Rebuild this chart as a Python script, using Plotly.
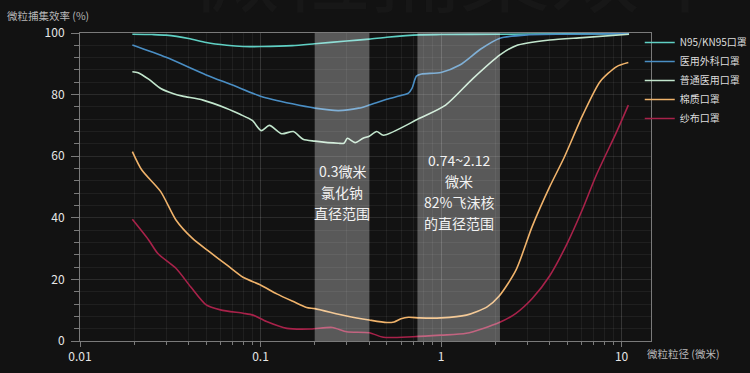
import math
import plotly.graph_objects as go

FONT = "Noto Sans CJK SC"

# ---- data ----
names = ["N95/KN95口罩", "医用外科口罩", "普通医用口罩", "棉质口罩", "纱布口罩"]
colors = ["#5fd0c4", "#4a8ec4", "#c2e6cd", "#f0b36b", "#a8224a"]

n95_x = [0.0195, 0.025, 0.03, 0.04, 0.05, 0.065, 0.08, 0.1, 0.15, 0.2, 0.3, 0.4, 0.5, 0.76, 1.0, 2.1, 5, 11]
n95_y = [99.6, 99.5, 99.3, 98.2, 96.9, 96.0, 95.6, 95.6, 95.9, 96.5, 97.4, 98.0, 98.6, 99.4, 99.5, 99.6, 99.7, 99.8]

surg_x = [0.0195, 0.03, 0.05, 0.07, 0.1, 0.15, 0.2, 0.27, 0.35, 0.4, 0.5, 0.6, 0.66, 0.69, 0.73, 0.78, 1.0, 1.27, 1.66, 2.12, 3, 5, 11]
surg_y = [96.1, 92.1, 86.4, 83.1, 79.5, 77.0, 75.6, 74.8, 75.6, 76.6, 78.5, 79.7, 80.5, 82.0, 86.0, 86.7, 87.2, 89.6, 94.8, 98.3, 99.4, 99.6, 99.8]

med_x = [0.0195, 0.021, 0.024, 0.028, 0.033, 0.037, 0.048, 0.065, 0.077, 0.09, 0.101, 0.112, 0.131, 0.152, 0.172, 0.2, 0.27, 0.29, 0.303, 0.334, 0.37, 0.4, 0.44, 0.48, 0.76, 1.06, 1.5, 2.12, 2.6, 4.0, 6.1, 11]
med_y = [87.4, 87.1, 85.0, 82.0, 80.3, 79.5, 78.2, 75.5, 73.6, 71.6, 68.3, 70.0, 67.3, 68.0, 65.5, 64.9, 64.2, 64.2, 65.8, 64.4, 65.8, 66.5, 68.0, 66.8, 72.3, 76.6, 85.2, 92.9, 95.9, 97.7, 98.5, 99.6]

cot_x = [0.0195, 0.022, 0.028, 0.034, 0.042, 0.052, 0.065, 0.08, 0.1, 0.123, 0.152, 0.18, 0.2, 0.3, 0.4, 0.5, 0.55, 0.6, 0.66, 0.76, 1.0, 1.38, 1.8, 2.1, 2.6, 3.2, 4.0, 4.8, 6.1, 7.6, 9.4, 10.9]
cot_y = [61.5, 55.5, 48.5, 39.3, 33.3, 29.0, 24.7, 20.7, 18.2, 15.3, 12.8, 10.9, 10.5, 8.1, 6.8, 6.0, 6.2, 7.2, 7.7, 7.5, 7.5, 8.4, 11.1, 14.6, 23.0, 37.2, 50.1, 59.5, 73.4, 84.2, 89.1, 90.4]

gauze_x = [0.0195, 0.024, 0.027, 0.034, 0.041, 0.05, 0.06, 0.08, 0.091, 0.108, 0.14, 0.19, 0.25, 0.3, 0.4, 0.48, 0.7, 1.0, 1.38, 2.1, 2.6, 3.2, 4.0, 5.0, 6.1, 7.2, 9.4, 10.9]
gauze_y = [39.5, 32.8, 28.4, 23.6, 17.6, 11.7, 10.1, 9.0, 8.4, 6.3, 4.1, 3.9, 4.4, 3.0, 2.7, 1.2, 1.4, 1.9, 2.5, 6.0, 9.0, 13.8, 21.2, 31.7, 43.0, 53.5, 68.0, 76.6]

series_x = [n95_x, surg_x, med_x, cot_x, gauze_x]
series_y = [n95_y, surg_y, med_y, cot_y, gauze_y]

region_lo = [0.2, 0.74]
region_hi = [0.4, 2.12]
region_text = [["0.3微米", "氯化钠", "直径范围"],
               ["0.74~2.12", "微米", "82%飞沫核", "的直径范围"]]
region_text_y = 48.5

x_tickvals = [0.01, 0.1, 1, 10]
x_ticktext = ["0.01", "0.1", "1", "10"]
y_title = "微粒捕集效率 (%)"
x_title = "微粒粒径 (微米)"
watermark = "微粒捕集效率"

# ---- figure ----
fig = go.Figure()
for nm, c, xs, ys in zip(names, colors, series_x, series_y):
    fig.add_trace(go.Scatter(x=xs, y=ys, mode="lines", name=nm,
                             line=dict(color=c, width=1.6, shape="spline", smoothing=0.7)))

for lo, hi, lines in zip(region_lo, region_hi, region_text):
    fig.add_shape(type="rect", xref="x", yref="paper", x0=lo, x1=hi, y0=0, y1=1,
                  fillcolor="rgba(255,255,255,0.3)", line=dict(width=0), layer="above")
    cx = (math.log10(lo) + math.log10(hi)) / 2
    n = len(lines)
    for i, t in enumerate(lines):
        fig.add_annotation(x=cx, y=region_text_y, xref="x", yref="y", text=t,
                           showarrow=False, yshift=-(i - (n - 1) / 2) * 21,
                           font=dict(family=FONT, size=14, color="#f2f2f2"))

fig.add_annotation(xref="paper", yref="paper", x=-0.131, y=1.058, text=y_title,
                   xanchor="left", yanchor="middle", showarrow=False,
                   font=dict(family=FONT, size=10.5, color="#b8b8b8"))
fig.add_annotation(xref="paper", yref="paper", x=0.99, y=-0.039, text=x_title,
                   xanchor="left", yanchor="middle", showarrow=False,
                   font=dict(family=FONT, size=10.5, color="#b8b8b8"))
fig.add_annotation(xref="paper", yref="paper", x=0.19, y=1.0, text=watermark,
                   xanchor="left", yanchor="bottom", showarrow=False,
                   font=dict(family=FONT, size=90, color="#171717"))

grid_major = "rgba(255,255,255,0.10)"
grid_minor = "rgba(255,255,255,0.06)"
fig.update_layout(
    width=750, height=373,
    margin=dict(l=80, r=99, t=33, b=32, autoexpand=False),
    paper_bgcolor="#121212", plot_bgcolor="#121212",
    font=dict(family=FONT, color="#e6e6e6"),
    showlegend=True,
    legend=dict(xref="container", yref="container", x=0.853, y=0.925,
                xanchor="left", yanchor="top",
                font=dict(family=FONT, size=10, color="#dddddd"),
                bgcolor="rgba(0,0,0,0)", itemwidth=30, tracegroupgap=0),
    xaxis=dict(type="log", range=[-2, 1.163], tickvals=x_tickvals, ticktext=x_ticktext,
               showline=True, linecolor="#7a7a7a", linewidth=1, mirror=True,
               ticks="outside", ticklen=5, tickcolor="#7a7a7a",
               tickfont=dict(size=12, color="#e6e6e6"),
               showgrid=True, gridcolor=grid_major, zeroline=False,
               minor=dict(dtick="D1", ticks="outside", ticklen=3, tickcolor="#7a7a7a",
                          showgrid=True, gridcolor=grid_minor)),
    yaxis=dict(range=[0, 100], dtick=20, tick0=0,
               showline=True, linecolor="#7a7a7a", linewidth=1, mirror=True,
               ticks="outside", ticklen=8, tickcolor="#7a7a7a", ticklabelstandoff=4,
               tickfont=dict(size=12, color="#e6e6e6"),
               showgrid=True, gridcolor=grid_major, zeroline=False,
               minor=dict(dtick=4, ticks="outside", ticklen=5, tickcolor="#7a7a7a",
                          showgrid=True, gridcolor=grid_minor)),
)

fig.write_html("out.html", config={"displayModeBar": False},
               post_script="document.body.style.margin='0';document.body.style.overflow='hidden';")
